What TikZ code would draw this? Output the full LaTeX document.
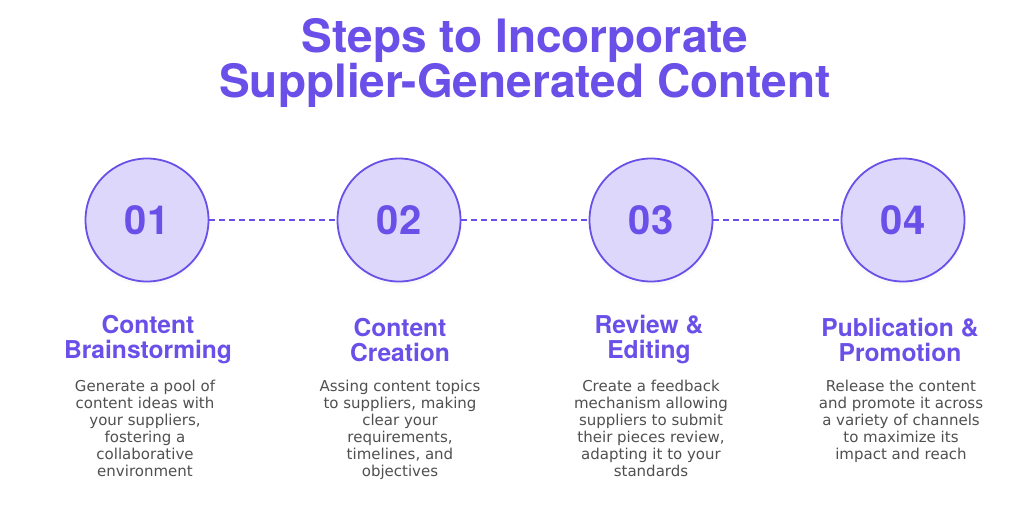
\documentclass[tikz,border=0pt]{standalone}
\usepackage{fontspec}
\setmainfont{TeX Gyre Heros}
\newfontfamily\bodyfont{DejaVu Sans}
\usetikzlibrary{shadows}
\definecolor{purp}{HTML}{6A50E8}
\definecolor{lav}{HTML}{DDD7FC}
\definecolor{bodygray}{HTML}{505050}
\tikzset{
  stepcircle/.style={circle, draw=purp, line width=1.8pt, fill=lav, minimum size=123pt, inner sep=0pt,
    font=\fontsize{40}{40}\selectfont\bfseries, text=purp,
    circular drop shadow={shadow xshift=0pt, shadow yshift=-3pt, opacity=0.12, shadow scale=1.03}},
  link/.style={draw=purp, line width=2.2pt, dash pattern=on 6pt off 4pt},
  head/.style={align=center, text=purp, font=\fontsize{24.6}{25}\selectfont\bfseries},
  desc/.style={align=center, text=bodygray, font=\bodyfont\fontsize{15}{17}\selectfont},
  ttl/.style={align=center, text=purp, font=\fontsize{46}{44}\selectfont\bfseries}
}
\begin{document}
\begin{tikzpicture}[x=1pt,y=-1pt]
\useasboundingbox[fill=white] (0,0) rectangle (1024,531);
\node[ttl] (title) at (525,63) {Steps to Incorporate\\Supplier-Generated Content};
\node[stepcircle] (c1) at (147,220) {01};
\node[stepcircle] (c2) at (399,220) {02};
\node[stepcircle] (c3) at (651,220) {03};
\node[stepcircle] (c4) at (903,220) {04};
\draw[link] (c1) -- (c2);
\draw[link] (c2) -- (c3);
\draw[link] (c3) -- (c4);
\node[head] (h1) at (148,340) {Content\\Brainstorming};
\node[head] (h2) at (400,340) {Content\\Creation};
\node[head] (h3) at (649,340) {Review \&\\Editing};
\node[head] (h4) at (900,340) {Publication \&\\Promotion};
\node[desc, anchor=north] (d1) at (145,377) {Generate a pool of\\content ideas with\\your suppliers,\\fostering a\\collaborative\\environment};
\node[desc, anchor=north] (d2) at (400,377) {Assing content topics\\to suppliers, making\\clear your\\requirements,\\timelines, and\\objectives};
\node[desc, anchor=north] (d3) at (651,377) {Create a feedback\\mechanism allowing\\suppliers to submit\\their pieces review,\\adapting it to your\\standards};
\node[desc, anchor=north] (d4) at (901,377) {Release the content\\and promote it across\\a variety of channels\\to maximize its\\impact and reach};
\end{tikzpicture}
\end{document}
